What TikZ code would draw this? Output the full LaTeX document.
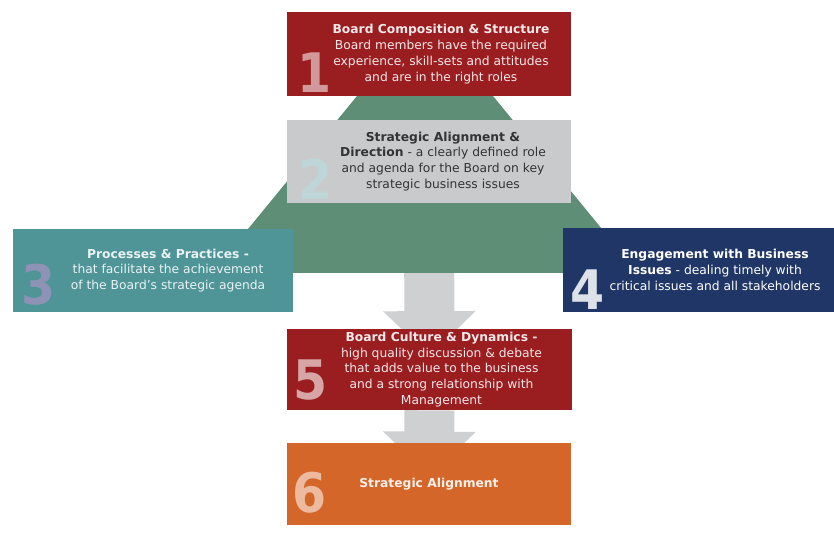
\documentclass[tikz,border=0pt]{standalone}
\usepackage{fontspec}
\setmainfont{DejaVu Sans}
\newfontfamily\numfont{DejaVu Sans Condensed}
\usetikzlibrary{arrows.meta, positioning, backgrounds}
\definecolor{boardred}{HTML}{9A1D20}
\definecolor{boardgray}{HTML}{C9CACC}
\definecolor{boardgreen}{HTML}{5F8E76}
\definecolor{boardteal}{HTML}{4F9598}
\definecolor{boardnavy}{HTML}{1F3667}
\definecolor{boardorange}{HTML}{D4662A}
\definecolor{arrowgray}{HTML}{CFD0D2}
\definecolor{numtwo}{HTML}{BFD6D9}
\definecolor{numthree}{HTML}{8E93B6}

\begin{document}
\begin{tikzpicture}[
  box/.style={rectangle, inner sep=0pt, minimum width=5.68cm, minimum height=1.66cm},
  txt/.style={align=center, inner sep=0pt, font=\fontsize{7}{9}\selectfont, text=white},
  num/.style={anchor=south west, inner sep=0pt,
              font=\numfont\bfseries\fontsize{31}{31}\selectfont},
  bigarr/.style={-{Triangle[width=1.8cm, length=0.9cm]}, line width=1cm, arrowgray}
]
\useasboundingbox (0,0) rectangle (16.68,10.8);
% centre column
\node[box, fill=boardred, minimum height=1.68cm] (b1) at (8.58,9.72) {};
\node[box, fill=boardgray] (b2) at (8.58,7.57) {};
\node[box, fill=boardred, minimum width=5.7cm, minimum height=1.62cm] (b5) at (8.59,3.41) {};
\node[box, fill=boardorange, minimum height=1.64cm] (b6) at (8.58,1.12) {};
% side boxes
\node[box, fill=boardteal, minimum width=5.6cm] (b3) at (3.06,5.39) {};
\node[box, fill=boardnavy, minimum width=5.42cm, minimum height=1.68cm] (b4) at (13.97,5.40) {};
% big numbers
\node[num, text=white!55!boardred] at ([shift={(0.2cm,0.06cm)}]b1.south west) {1};
\node[num, text=numtwo] at ([shift={(0.22cm,0.06cm)}]b2.south west) {2};
\node[num, text=numthree] at ([shift={(0.18cm,0.14cm)}]b3.south west) {3};
\node[num, text=white!85!boardnavy] at ([shift={(0.14cm,0.04cm)}]b4.south west) {4};
\node[num, text=white!60!boardred] at ([shift={(0.12cm,0.2cm)}]b5.south west) {5};
\node[num, text=white!55!boardorange] at ([shift={(0.1cm,0.24cm)}]b6.south west) {6};
% texts
\node[txt, text=white!90!boardred] (t1) at ([xshift=0.24cm]b1.center)
  {\textbf{Board Composition \& Structure}\\Board members have the required\\
   experience, skill-sets and attitudes\\and are in the right roles};
\node[txt, text=black!80] (t2) at ([xshift=0.28cm]b2.center)
  {\textbf{Strategic Alignment \&}\\\textbf{Direction} - a clearly defined role\\
   and agenda for the Board on key\\strategic business issues};
\node[txt, text=white!88!boardteal] (t3) at ([xshift=0.3cm]b3.center)
  {\textbf{Processes \& Practices -}\\that facilitate the achievement\\
   of the Board's strategic agenda};
\node[txt] (t4) at ([xshift=0.33cm]b4.center)
  {\textbf{Engagement with Business}\\\textbf{Issues} - dealing timely with\\
   critical issues and all stakeholders};
\node[txt, text=white!90!boardred] (t5) at ([xshift=0.24cm]b5.center)
  {\textbf{Board Culture \& Dynamics -}\\high quality discussion \& debate\\
   that adds value to the business\\and a strong relationship with\\Management};
\node[txt, text=white!90!boardorange] (t6) at (b6.center) {\textbf{Strategic Alignment}};
% green band and flow arrows behind the boxes
\begin{scope}[on background layer]
\draw[bigarr] (b2.south) -- ([yshift=-0.55cm]b5.north);
\draw[bigarr] (b5.south) -- ([yshift=-0.68cm]b6.north);
\fill[boardgreen] (7.14,8.88) -- (9.86,8.88) -- (12.76,5.34) -- (4.24,5.34) -- cycle;
\end{scope}
\end{tikzpicture}
\end{document}
